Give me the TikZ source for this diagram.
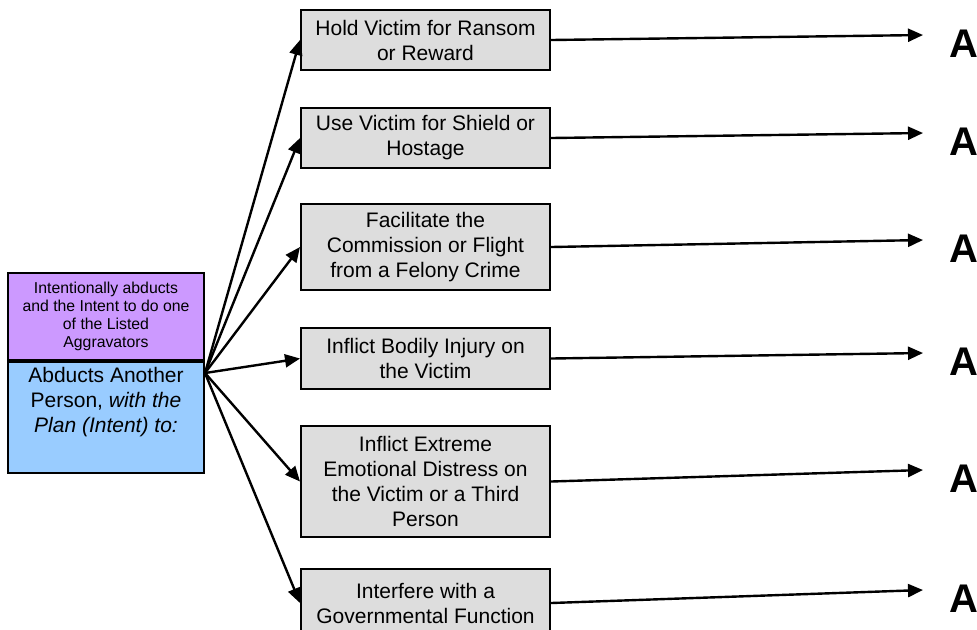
\documentclass[tikz,border=0pt]{standalone}
\usepackage{fontspec}
\setmainfont{Liberation Sans}
\usetikzlibrary{calc,arrows.meta}

\definecolor{aggpurple}{HTML}{CC99FF}
\definecolor{actblue}{HTML}{99CCFF}
\definecolor{stepgray}{HTML}{DDDDDD}

\tikzset{
  aimbox/.style={draw, line width=1pt, fill=stepgray, align=center,
    minimum width=124.5pt, font=\fontsize{10.5}{12.5}\selectfont},
  feed/.style={line width=1.2pt, -{Triangle[length=7.5pt,width=6.5pt]}},
  gradelbl/.style={anchor=base west, inner sep=0pt, font=\fontsize{20}{24}\selectfont\bfseries}
}

\begin{document}
\begin{tikzpicture}[x=0.5pt, y=-0.5pt]
  \useasboundingbox (0,0) rectangle (977,629);

  % left: the act and the required intent
  \node[draw, line width=1pt, fill=aggpurple, align=center, anchor=north,
    minimum width=98pt, minimum height=43.5pt, font=\fontsize{7.9}{9}\selectfont]
    (agg) at (106,272) {Intentionally abducts\\and the Intent to do one\\of the Listed\\Aggravators};
  \node[draw, line width=1pt, fill=actblue, align=center, anchor=north, inner ysep=1pt,
    minimum width=98pt, minimum height=55.5pt, font=\fontsize{10.5}{12.5}\selectfont]
    (act) at (agg.south) {Abducts Another\\Person, \textit{with the}\\\textit{Plan (Intent) to:}\\[5pt]\mbox{}};

  \coordinate (src) at ($(agg.north east)!0.5!(act.south east)$);

  % the listed aggravators
  \node[aimbox, minimum height=30pt] (b1) at (425.5,40) {Hold Victim for Ransom\\or Reward};
  \node[aimbox, minimum height=30pt] (b2) at (425.5,138) {Use Victim for Shield or\\Hostage};
  \node[aimbox, minimum height=43pt] (b3) at (425.5,247) {Facilitate the\\Commission or Flight\\from a Felony Crime};
  \node[aimbox, minimum height=30.5pt] (b4) at (425.5,358.5) {Inflict Bodily Injury on\\the Victim};
  \node[aimbox, minimum height=55.5pt] (b5) at (425.5,481.5) {Inflict Extreme\\Emotional Distress on\\the Victim or a Third\\Person};
  \node[aimbox, minimum height=34pt, anchor=north] (b6) at (425.5,568) {Interfere with a\\Governmental Function};

  % arrow ends and grades
  \coordinate (e1) at (923,35);
  \coordinate (e2) at (923,133);
  \coordinate (e3) at (923,240);
  \coordinate (e4) at (923,353);
  \coordinate (e5) at (923,470);
  \coordinate (e6) at (923,590);
  \foreach \i in {1,...,6}
    \node[gradelbl] (a\i) at ($(e\i)+(26,22)$) {A};

  \foreach \i in {1,...,6} {
    \draw[feed] (src) -- (b\i.west);
    \draw[feed] (b\i.east) -- (e\i);
  }
\end{tikzpicture}
\end{document}
